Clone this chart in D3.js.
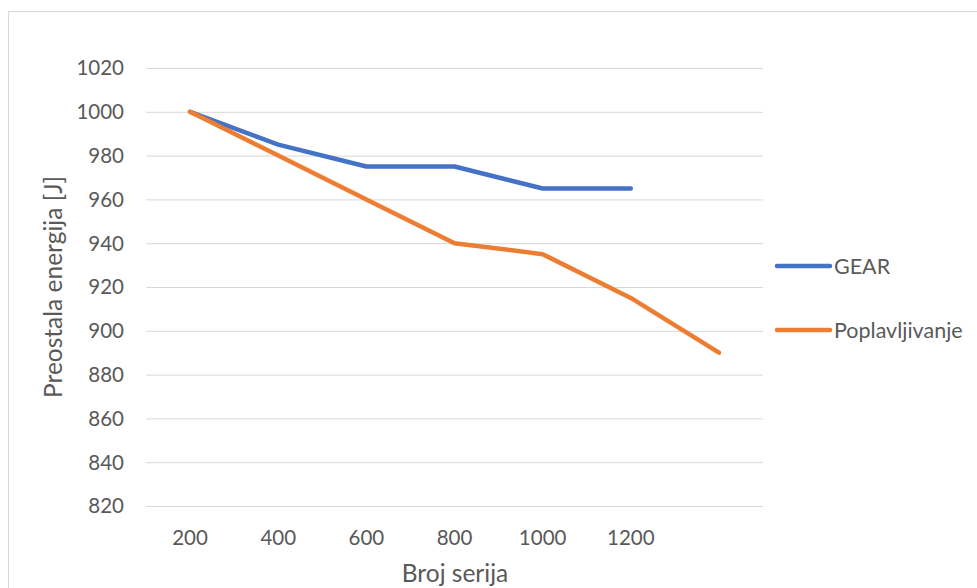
<!DOCTYPE html>
<html><head><meta charset="utf-8">
<script src="https://cdn.jsdelivr.net/npm/d3@7"></script>
<style>body{margin:0;background:#fff}svg{display:block}text{font-family:Lato,"Open Sans",sans-serif;fill:#595959}</style>
</head><body>
<svg id="c" width="977" height="588"></svg>
<script>
const categories = ["200","400","600","800","1000","1200",""];
const gear = [1000,985,975,975,965,965];
const poplav = [1000,980,960,940,935,915,890];
const yTicks = [820,840,860,880,900,920,940,960,980,1000,1020];
const seriesNames = ["GEAR","Poplavljivanje"];
const colors = ["#4472C4","#ED7D31"];

const svg = d3.select("#c");
svg.append("rect").attr("x",8.5).attr("y",11.5).attr("width",980).attr("height",600)
  .attr("fill","#fff").attr("stroke","#D9D9D9").attr("stroke-width",1);

const x = d3.scaleBand().domain(categories.map((c,i)=>i)).range([146,763]);
const y = d3.scaleLinear().domain([820,1020]).range([506,68]);

const g = svg.append("g");
g.selectAll("line.grid").data(yTicks).join("line")
  .attr("x1",146).attr("x2",763).attr("y1",d=>y(d)+0.5).attr("y2",d=>y(d)+0.5)
  .attr("stroke","#D9D9D9").attr("stroke-width",1);

g.selectAll("text.yt").data(yTicks).join("text")
  .attr("x",124).attr("y",d=>y(d)).attr("dy","0.36em").attr("text-anchor","end")
  .attr("font-size",20.5).text(d=>d);

g.selectAll("text.xt").data(categories).join("text")
  .attr("x",(d,i)=>x(i)+x.bandwidth()/2).attr("y",545).attr("text-anchor","middle")
  .attr("font-size",20.5).text(d=>d);

svg.append("text").attr("x",455).attr("y",582).attr("text-anchor","middle").attr("font-size",24.5).text("Broj serija");
svg.append("text").attr("transform","translate(62,287) rotate(-90)").attr("text-anchor","middle").attr("font-size",24.5).text("Preostala energija [J]");

const line = d3.line().x((d,i)=>x(i)+x.bandwidth()/2).y(d=>y(d));
[gear,poplav].forEach((s,k)=>{
  svg.append("path").attr("d",line(s)).attr("fill","none").attr("stroke",colors[k])
    .attr("stroke-width",4.5).attr("stroke-linecap","round").attr("stroke-linejoin","round");
});

const leg = [266,330];
seriesNames.forEach((n,k)=>{
  svg.append("line").attr("x1",777).attr("x2",830).attr("y1",leg[k]).attr("y2",leg[k])
    .attr("stroke",colors[k]).attr("stroke-width",4.5).attr("stroke-linecap","round");
  svg.append("text").attr("x",834).attr("y",leg[k]).attr("dy","0.36em").attr("font-size",21.5).text(n);
});
</script>
</body></html>
